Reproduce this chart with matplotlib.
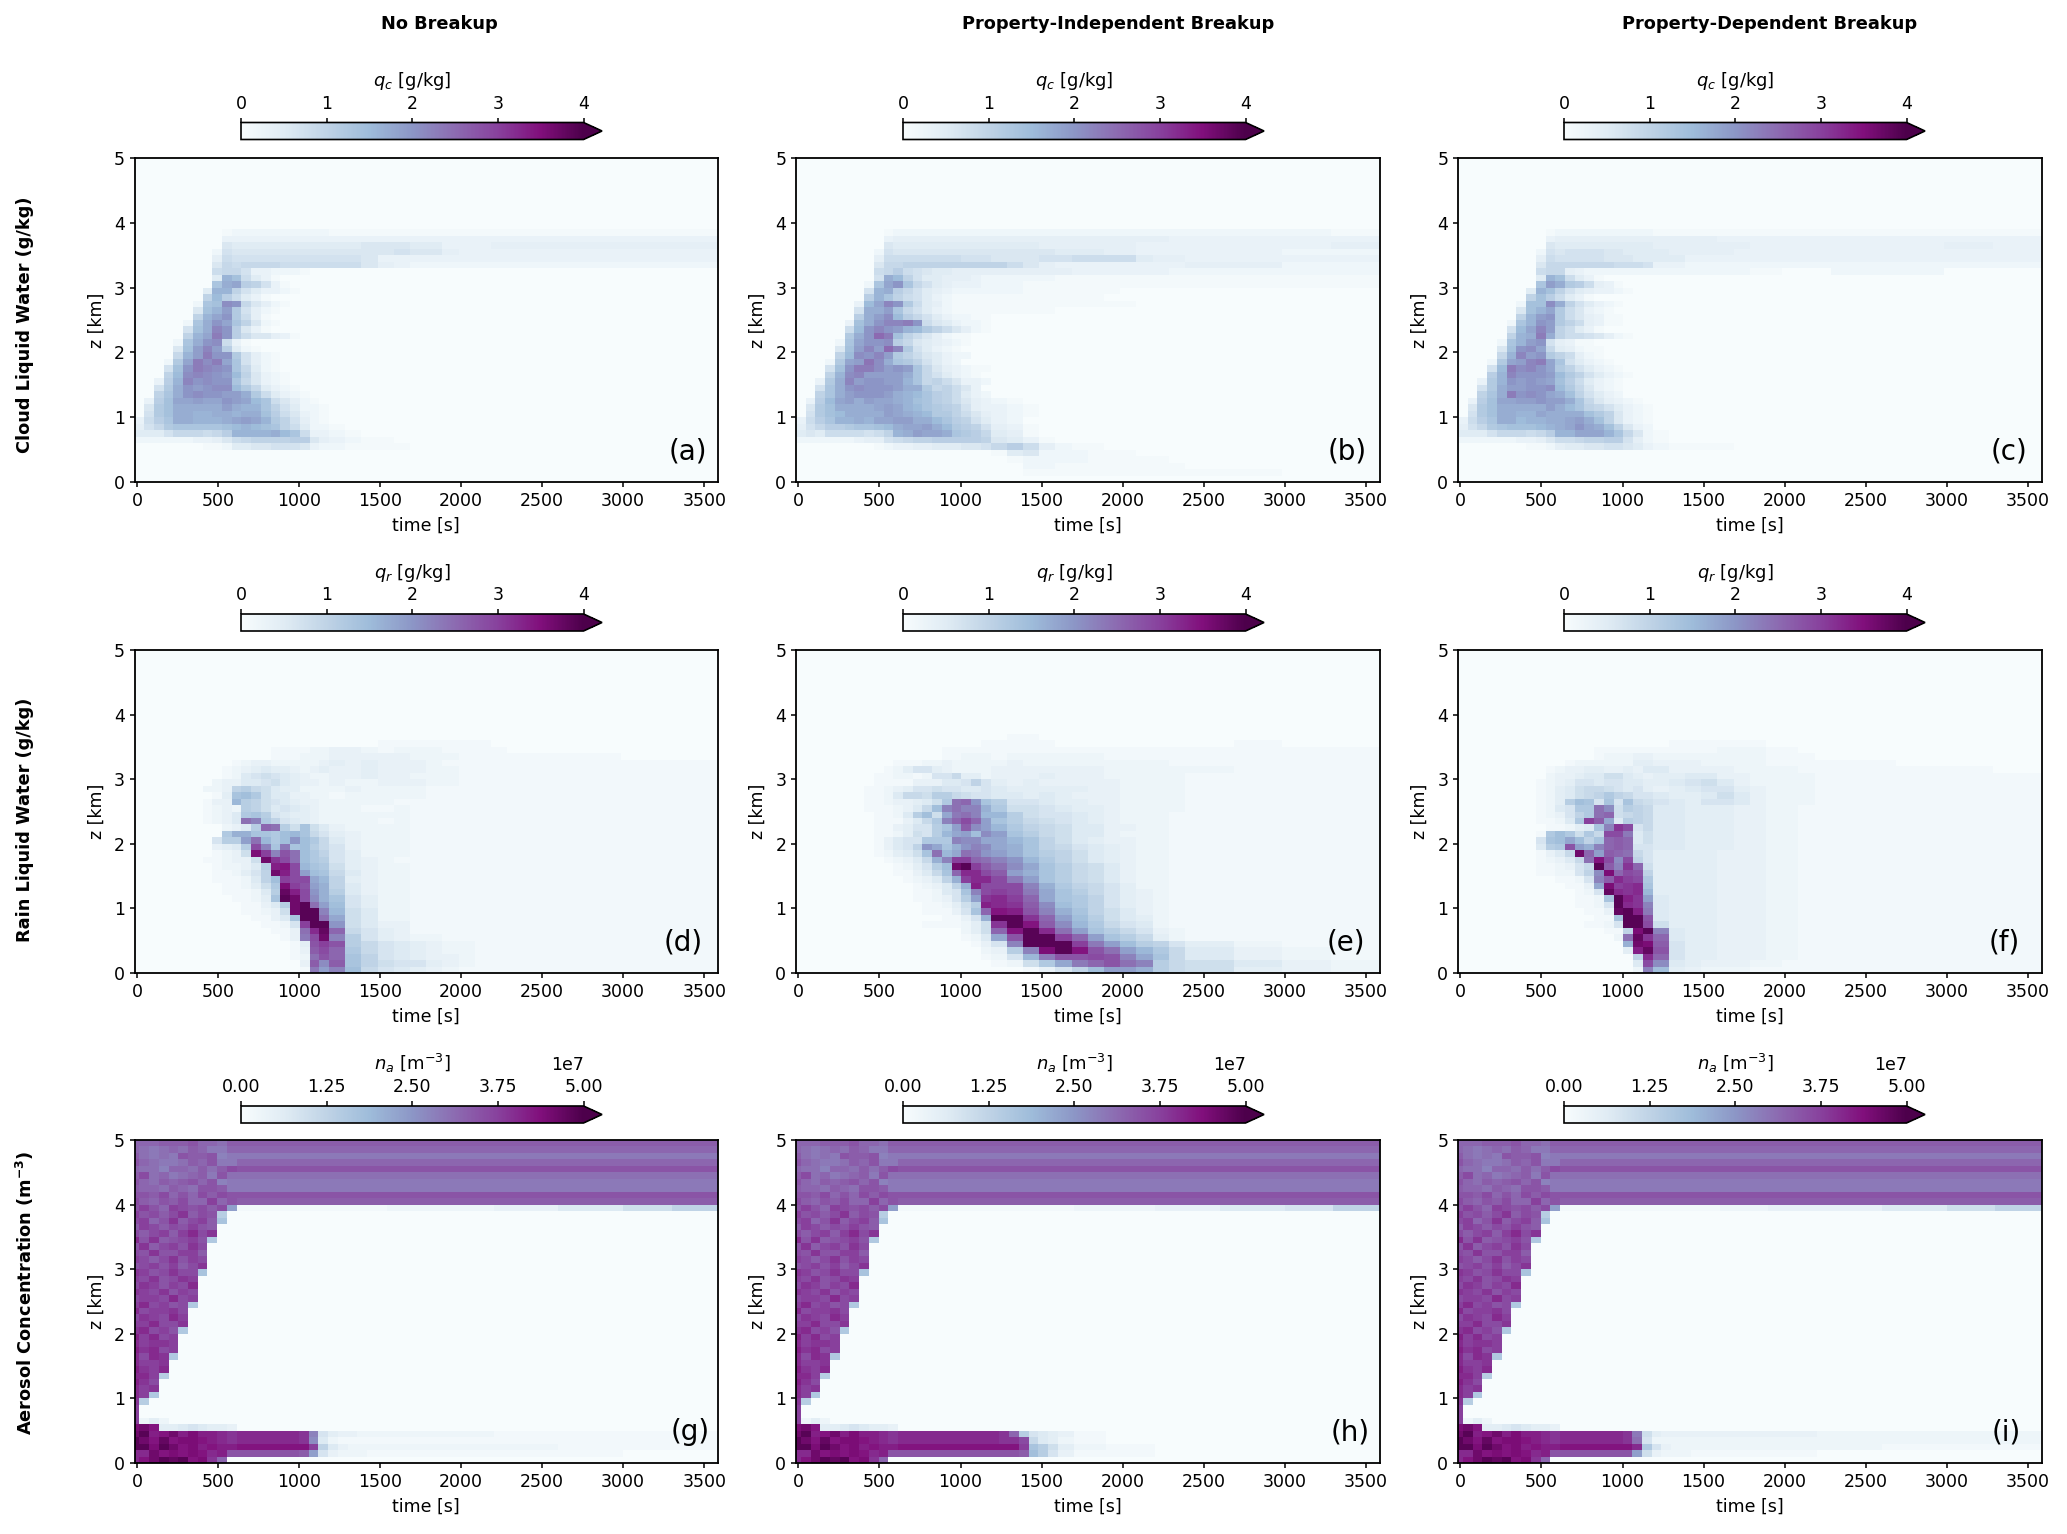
import numpy as np
import matplotlib
matplotlib.use("Agg")
import matplotlib.pyplot as plt

W, H = 2067, 1534

# Time bin edges [s]
TIME_EDGES_Q = [-15, 45, 105, 165, 225, 285, 345, 405, 465, 525, 585, 645, 705, 765, 825, 885, 945, 1005, 1065, 1125,
                1185, 1285, 1385, 1485, 1585, 1685, 1785, 1885, 1985, 2085, 2185, 2285, 2385, 2685, 2985, 3285, 3585]
TIME_EDGES_NA = [-15, 15, 75, 135, 195, 255, 315, 375, 435, 495, 555, 615, 800, 1000, 1060, 1120, 1180, 1240, 1300,
                 1360, 1420, 1480, 1540, 1600, 1700, 1900, 2200, 2600, 3000, 3300, 3585]

# Read values: row index = z in 100 m steps; each character is one time bin, base-36 code
QC_NO_BREAKUP = {
38: "0000000001 2222222222 1111111111 111111",
37: "0000000003 3333333333 3333333333 333333",
36: "0000000006 5555555555 5566655333 444444",
35: "0000000027 6666666666 6666766433 333333",
34: "0000000048 7777777777 7763333333 333333",
33: "0000000069 8999988888 8864322222 222222",
32: "0000000089 9733222100",
31: "000000005g e85310",
30: "00000000dh iba7310000",
29: "00000005gg a753321000",
28: "0000000afb 8531000",
27: "0000002del k96421",
26: "0000006egj c7421",
25: "000000agik c841",
24: "000002dhki da6210",
23: "000007ehmk b6310",
22: "00000agink b866431",
21: "00002dhkl8 31",
20: "00006ejmjb 521",
19: "00009gjnkk c74210",
18: "0002cinlni d7421",
17: "0007eknmlk d95210",
16: "000aflmlkj fa63210",
15: "003bgmklkk d96321",
14: "007chkjkll fc95321",
13: "00adhklkkj jhc85321",
12: "03beiijiik jifd86421",
11: "06cehhhhhj hggda75221",
10: "07cehhgghh ghheb86321",
9: "38bdhhgggh ijigca7421",
8: "479cddddde fgfeda8522 1",
7: "555799989b gggghfd833 21",
6: "2222223346 89aaaabb64 3211",
5: "0000000112 5566777632 21111",
}
QC_INDEPENDENT = {
38: "0000000001 2222222222 2222222222 222221",
37: "0000000003 4444444444 4444444444 433333",
36: "0000000006 5555555555 5554444443 333334",
35: "0000000027 6666666666 6666555443 333322",
34: "0000000048 8888888777 6667788885 443333",
33: "0000000069 9aaaaaaaaa a864333333 334422",
32: "0000000089 b876554444 4444433333 322222",
31: "000000007h fa75544432 2222111111 111111",
30: "00000002di kd97543332 2211111111 111111",
29: "00000007gh b975432222 2211111100",
28: "0000000bgd a875321111 1111111",
27: "0000003fim kc85421111 111111111",
26: "0000007hhj d975321111 1111",
25: "000000bhjl fb97532211",
24: "000003ehkm mnk8653221",
23: "000008fkmk jgfca86421",
22: "00000chkpn ea86421100",
21: "00002dikkl b9654321",
20: "00006ejmjp mc75321",
19: "0000aflkmj ca865322",
18: "0002cijolh dca7532",
17: "0007eknnlj kjd9643211",
16: "000aglmjjj jhd975321",
15: "003chmjkkj jgd9a86332",
14: "007dhklkkk jhhc9a863",
13: "00adhjkkkj hgfdba8532",
12: "03bfijhjii hgedba8643 21",
11: "06cehhhhij igfdcba743 321",
10: "07cefhhhhj ihgfcca864 321",
9: "38bdgghgii jjhhfdba75 32",
8: "479bbcddef hiijhfcba7 431",
7: "565888878a ghjiihdcb9 541",
6: "2222223447 89aabbbbba 6531",
5: "0000000012 3344555667 9b84211",
4: "0000000000 0000000000 1562221110",
3: "0000000000 0000000000 0122221111 100",
2: "0000000000 0000000000 0022111111 11",
1: "0000000000 0000000000 0011111111 1111",
}
QC_DEPENDENT = {
38: "0000000001 2222222222 1111111111 111111",
37: "0000000003 4444444444 4444333333 333333",
36: "0000000006 5555555555 4444443333 333343",
35: "0000000027 6777766555 5444433333 333333",
34: "0000000048 7777766655 5533333333 333333",
33: "0000000069 9999998887 3322222222 222222",
32: "0000000089 9432222222 2222221100 0222",
31: "000000005g e85310",
30: "00000000dj hcb8431",
29: "00000005ge a7543321",
28: "0000000aeb 85310",
27: "0000002eel ha75321",
26: "0000006egi c86321",
25: "000000agjk c864311",
24: "000002dgkj ca84311",
23: "000007fimj a8531",
22: "00000aghnh a8876421",
21: "00002dgjk7 4311",
20: "00006ekli9 54211",
19: "00009gmjkc a8421",
18: "0002cijmni d75321",
17: "0007fnlmki ca75321",
16: "000bgmkkkj fca75321",
15: "003cgkjkji eb85321",
14: "007chjjkkl fc96321",
13: "00adhnklki hea7532",
12: "03beiijjkj jhd964321",
11: "06cehhhhhj hfda975321",
10: "07cehhggih hhheca6321",
9: "38bdhhfggh hijhea6321",
8: "479cdeeefg hikihea632",
7: "555799989b ggiiigd962 1",
6: "2222223346 889aabb742 1",
5: "0000000112 4556677653 21111",
}
QR_NO_BREAKUP = {
35: "0000000000 0000000000 0001111111",
34: "0000000000 0000111122 3321222111 100000",
33: "0000000000 0000111222 3333322211 111100",
32: "0000000000 1233222223 4343332111 111111",
31: "0000000001 2345443234 3343332211 111111",
30: "0000000001 2567654322 3343322211 111111",
29: "0000000023 3556754332 3223332211 111111",
28: "0000000223 9a87544222 2322221111 111111",
27: "0000000014 cdb7553322 1222221111 111111",
26: "0000000133 ea97654332 2222111111 111111",
25: "0000000123 2a97565432 2211211111 111111",
24: "0000000123 5bca654432 2222211111 111111",
23: "0000000123 5mkb965432 2221211111 111111",
22: "0000000002 35anma7c75 3222211111 111111",
21: "000000000b ffccbdec86 4322211111 111111",
20: "000000006a ahmebdidb8 5322211111 111111",
19: "0000000034 5aqkclcda8 6322211111 111111",
18: "0000000012 37wrkpmdb9 6422211111 111111",
17: "0000000112 337xsqmdba 6432111111 111111",
16: "0000000012 235auvqecb 7432211111 111111",
15: "0000000011 2469xuqhdc 8532211111 111111",
14: "0000000011 1259drqqge 9432211111 111111",
13: "0000000001 1247bwrphf 9532211111 111111",
12: "0000000001 1125ayuqif a532211111 111111",
11: "0000000000 1124czxqjf c642211111 111111",
10: "0000000000 01135axzmh d642211111 111111",
9: "0000000000 011237xzzk e752211111 111111",
8: "0000000000 001135czzm g752211111 111111",
7: "0000000000 0001126rzz i753311111 111111",
6: "0000000000 0000113mty n864311111 111111",
5: "0000000000 0000013lqx ka64322111 111111",
4: "0000000000 00000014pr pa86543221 111111",
3: "0000000000 00000013oq nb86543221 111111",
2: "0000000000 00000012mp nc96543321 111111",
1: "0000000000 00000003oj oc97664321 111111",
0: "0000000000 00000001lh kd86543211 111111",
}
QR_INDEPENDENT = {
36: "0000000000 0000000000 0110000000",
35: "0000000000 0000000001 1111000000 000100",
34: "0000000000 0000011111 1111111111 111111",
33: "0000000000 0000011222 1222222111 111111",
32: "0000000000 1112232222 2322222222 211111",
31: "0000000001 2466432222 3333333222 222111",
30: "0000000011 2212668442 3334333222 221111",
29: "0000000011 1133355696 4343333322 221111",
28: "0000000112 3466766556 5444443322 221111",
27: "0000000112 5887aa8766 5545433322 221111",
26: "0000000112 33457bmnic a665443322 221111",
25: "0000000111 2358dkmkkf b776544322 221111",
24: "0000000011 25ad7glmke ea76654322 211111",
23: "0000000011 1358bknqnh ca87654322 211111",
22: "0000000011 3466achojh eb98755332 211111",
21: "0000000011 2476aeghdj hca8755322 211111",
20: "0000000013 566bbbkjjg gec9754332 211111",
19: "0000000013 569igcfikj gfc9865432 211111",
18: "0000000012 457cmegmli hfca975432 211111",
17: "0000000001 2358fkrrnm kieb975432 211111",
16: "0000000000 1246adxzro mjgca87532 211111",
15: "0000000000 11358cnttq ohfca87532 211111",
14: "0000000000 012359frtt qlhca87532 211111",
13: "0000000000 0012359fuq qqkfb98642 211111",
12: "0000000000 0011256ckq rqlgca8643 211111",
11: "0000000000 0011236ahs trngcb9643 211111",
10: "0000000000 00011247au tsojdb9643 211111",
9: "0000000000 00011136cn vupkfc9753 211111",
8: "0000000000 000001136f zzsnhda754 211111",
7: "0000000000 0001111247 szvojeb865 211111",
6: "0000000000 0000000247 nvztmhca86 321111",
5: "0000000000 0000000125 gpzzrnhca8 421111",
4: "0000000000 0000000013 6kzzzrlhda 964211",
3: "0000000000 0000000002 3akwzvpmhe b85321",
2: "0000000000 0000000001 26elppqpkg c85321",
1: "0000000000 0000000000 127bglnpmk a87532",
0: "0000000000 0000000000 001369dhhf a87432",
}
QR_DEPENDENT = {
35: "0000000000 0000000000 0111111000",
34: "0000000000 0000111111 1111222110",
33: "0000000000 0000122233 2222222111",
32: "0000000000 0122222244 3332222111 111000",
31: "0000000001 2334433435 5333322221 111110",
30: "0000000002 3345577543 4455332222 111111",
29: "0000000012 3466566554 4567532222 111111",
28: "0000000012 4578876564 3456643222 111111",
27: "0000000012 45789b9866 5445753222 111111",
26: "0000000012 4adc6c6c87 6546653222 111111",
25: "0000000012 56bbmj7a98 5544433221 111111",
24: "0000000012 369bmn7898 5544433221 111111",
23: "0000000011 25brog5a98 5544433221 111111",
22: "0000000001 1245cksq68 5544433221 111111",
21: "000000001b db7b8qql57 5544433221 111111",
20: "000000006c dgd9cnon57 5544433221 111111",
19: "000000005a bphfknon66 5544433221 111111",
18: "0000000013 58xnhonm86 4444333221 111111",
17: "0000000012 358mvqjq96 4444333221 111111",
16: "0000000011 2368zoksn7 4444333221 111111",
15: "0000000011 2269jwnqp9 4444333221 111111",
14: "0000000000 1126kotrqb 4444333221 111111",
13: "0000000000 0113gwrstc 4444333221 111111",
12: "0000000000 00126ytste 4444333221 111111",
11: "0000000000 00112czush 5444333221 111111",
10: "0000000000 001126ztsk 5444333221 111111",
9: "0000000000 000113yzul 5444333221 111111",
8: "0000000000 000011czzp 5444333221 111111",
7: "0000000000 0001126zzq 7444333221 111111",
6: "0000000000 00000119wz k544333221 111111",
5: "0000000000 0000002mys n544333221 111111",
4: "0000000000 0000000fxw o644333221 111111",
3: "0000000000 00000004uy p644333221 111111",
2: "0000000000 000000009t n644333221 111111",
1: "0000000000 000000005q j543332211 111111",
0: "0000000000 000000002k d432221111 111111",
}
# Aerosol: early-time cells read the same in all three panels
NA_EARLY = {
49: "nnnooopnnmo ooooooooooooooooooo",
48: "nmlmnmonlln nnnnnnnnnnnnnnnnnnn",
47: "omlmlpoopkl lllllllllllllllllll",
46: "pnmllmonpll nnnnnnnnnnnnnnnnnnn",
45: "nmmknnmomoq ppppppppppppppppppp",
44: "oqmnlmnolpm mmmmmmmmmmmmmmmmmmm",
43: "pnmonopnpkl lllllllllllllllllll",
42: "onnmonmppol lllllllllllllllllll",
41: "ppoqnpnqoqp ppppppppppppppppppp",
40: "qonpoqnnrnp ooooooooooooooooooo",
38: "rpqoqsoqpa", 37: "qrnpsoqroc", 36: "orqoqprpo", 35: "qoqrortqs", 34: "tpsopqrpb",
33: "psoqrpsq", 32: "qpspprro", 31: "rqoqsprq", 30: "pqrproqs", 29: "srpqsqqc",
28: "rqspqsr", 27: "qsrprqt", 26: "srqsprq", 25: "qrrqtqr", 24: "rtqrpqb",
23: "tqrrsq", 22: "qsrqtr", 21: "rrtqqs", 20: "stqrpb",
19: "urtqr", 18: "trssr", 17: "ustqr", 16: "tqtsb",
15: "trrs", 14: "usrt", 13: "ttra", 12: "usq", 11: "trs", 10: "trb",
9: "sa", 8: "r", 7: "r", 6: "r242",
5: "wxv44565443",
0: "tvxzyzvwsn0",
}
NA_EARLY_LOW = {39: "prpnrqpqoqh", 4: "xzuvxuwuuts", 3: "zxvyvwwvuts", 2: "zzwzxvwuvuu", 1: "ttxvwvwvtup"}
NA_NO_BREAKUP = {39: "1111111111122223579", 4: "ttsk643322222221111", 3: "ttsj521111111111111",
                 2: "vvvr953222222222111", 1: "ppoh632221111111100"}
NA_INDEPENDENT = {39: "1111111111111223569", 4: "ttttttsna6543100000", 3: "ttttttssq8542100000",
                  2: "vvvvvvvvrca74210000", 1: "ppppppppoda63110000"}
NA_DEPENDENT = {39: "1111111111112233579", 4: "ttsl743333333332222", 3: "ttsm622222222222222",
                2: "vvvtb63222222222111", 1: "ppph732221111110000"}

COLUMN_TITLES = ["No Breakup", "Property-Independent Breakup", "Property-Dependent Breakup"]
ROW_TITLES = ["Cloud Liquid Water (g/kg)", "Rain Liquid Water (g/kg)", r"Aerosol Concentration (m$\mathbf{^{-3}}$)"]
CBAR_LABELS = [r"$q_c$ [g/kg]", r"$q_r$ [g/kg]", r"$n_a$ [m$^{-3}$]"]
VMAX = [4.0, 4.0, 5e7]
CODE_DIVISOR = [40, 36, 36]
CBAR_TICKS = [[0, 1, 2, 3, 4], [0, 1, 2, 3, 4], [0, 1.25e7, 2.5e7, 3.75e7, 5e7]]
PANEL_LETTERS = ["(a)", "(b)", "(c)", "(d)", "(e)", "(f)", "(g)", "(h)", "(i)"]


def decode(rows, n_cols, vmax, divisor):
    grid = np.zeros((50, n_cols))
    for k, s in rows.items():
        codes = [int(c, 36) for c in s.replace(" ", "")]
        grid[k, :len(codes)] = np.array(codes) / divisor * vmax
    return grid


def aerosol(panel):
    rows = dict(NA_EARLY)
    for k, right in panel.items():
        rows[k] = NA_EARLY_LOW[k] + right
    return rows


PANELS = [QC_NO_BREAKUP, QC_INDEPENDENT, QC_DEPENDENT,
          QR_NO_BREAKUP, QR_INDEPENDENT, QR_DEPENDENT,
          aerosol(NA_NO_BREAKUP), aerosol(NA_INDEPENDENT), aerosol(NA_DEPENDENT)]

plt.rcParams.update({"font.family": "DejaVu Sans", "font.size": 12.5, "axes.linewidth": 1.3,
                     "xtick.major.width": 1.1, "ytick.major.width": 1.1})
fig = plt.figure(figsize=(W / 100, H / 100), dpi=100)

X0 = [134.5, 796, 1458]
AX_W = 583.5
Y0 = [158, 650, 1140]
Y1 = [482, 973, 1463]
CB_X = [241, 903, 1564]
CB_W = 361
CB_Y0 = [122.5, 614, 1106]
CB_H = 17
ROW_TITLE_Y = [325, 820, 1293]
COL_TITLE_X = [439, 1118, 1770]
LETTER_X = [0.948, 0.945, 0.945, 0.941, 0.943, 0.936, 0.953, 0.95, 0.94]


def px_axes(x, top, w, h):
    return fig.add_axes([x / W, 1 - (top + h) / H, w / W, h / H])


z_edges = np.arange(51) * 0.1
for idx, rows in enumerate(PANELS):
    r, c = divmod(idx, 3)
    ax = px_axes(X0[c], Y0[r], AX_W, Y1[r] - Y0[r])
    edges = TIME_EDGES_NA if r == 2 else TIME_EDGES_Q
    data = decode(rows, len(edges) - 1, VMAX[r], CODE_DIVISOR[r])
    mesh = ax.pcolormesh(edges, z_edges, data, cmap="BuPu", vmin=0, vmax=VMAX[r], linewidth=0, rasterized=True)
    ax.set_xlim(-15, 3585)
    ax.set_ylim(0, 5)
    ax.set_xticks(range(0, 3501, 500))
    ax.set_yticks(range(6))
    ax.set_xlabel("time [s]", labelpad=5)
    ax.set_ylabel("z [km]", labelpad=6)
    ax.text(LETTER_X[idx], 0.095, PANEL_LETTERS[idx], transform=ax.transAxes, fontsize=20, ha="center", va="center")

    cax = px_axes(CB_X[c], CB_Y0[r], CB_W, CB_H)
    cb = fig.colorbar(mesh, cax=cax, orientation="horizontal", extend="max", extendfrac=0.054,
                      ticks=CBAR_TICKS[r])
    cax.xaxis.set_ticks_position("top")
    cax.xaxis.set_label_position("top")
    cb.set_label(CBAR_LABELS[r], labelpad=6, fontsize=13)
    cb.outline.set_linewidth(1.2)
    if r == 2:
        cax.xaxis.get_offset_text().set_fontsize(12.5)

for c, t in enumerate(COLUMN_TITLES):
    fig.text(COL_TITLE_X[c] / W, 1 - 24 / H, t, fontsize=12.8, fontweight="bold", ha="center", va="center")
for r, t in enumerate(ROW_TITLES):
    fig.text(25 / W, 1 - ROW_TITLE_Y[r] / H, t, fontsize=12.8, fontweight="bold", rotation=90,
             ha="center", va="center")

fig.savefig("out.png", dpi=100)
